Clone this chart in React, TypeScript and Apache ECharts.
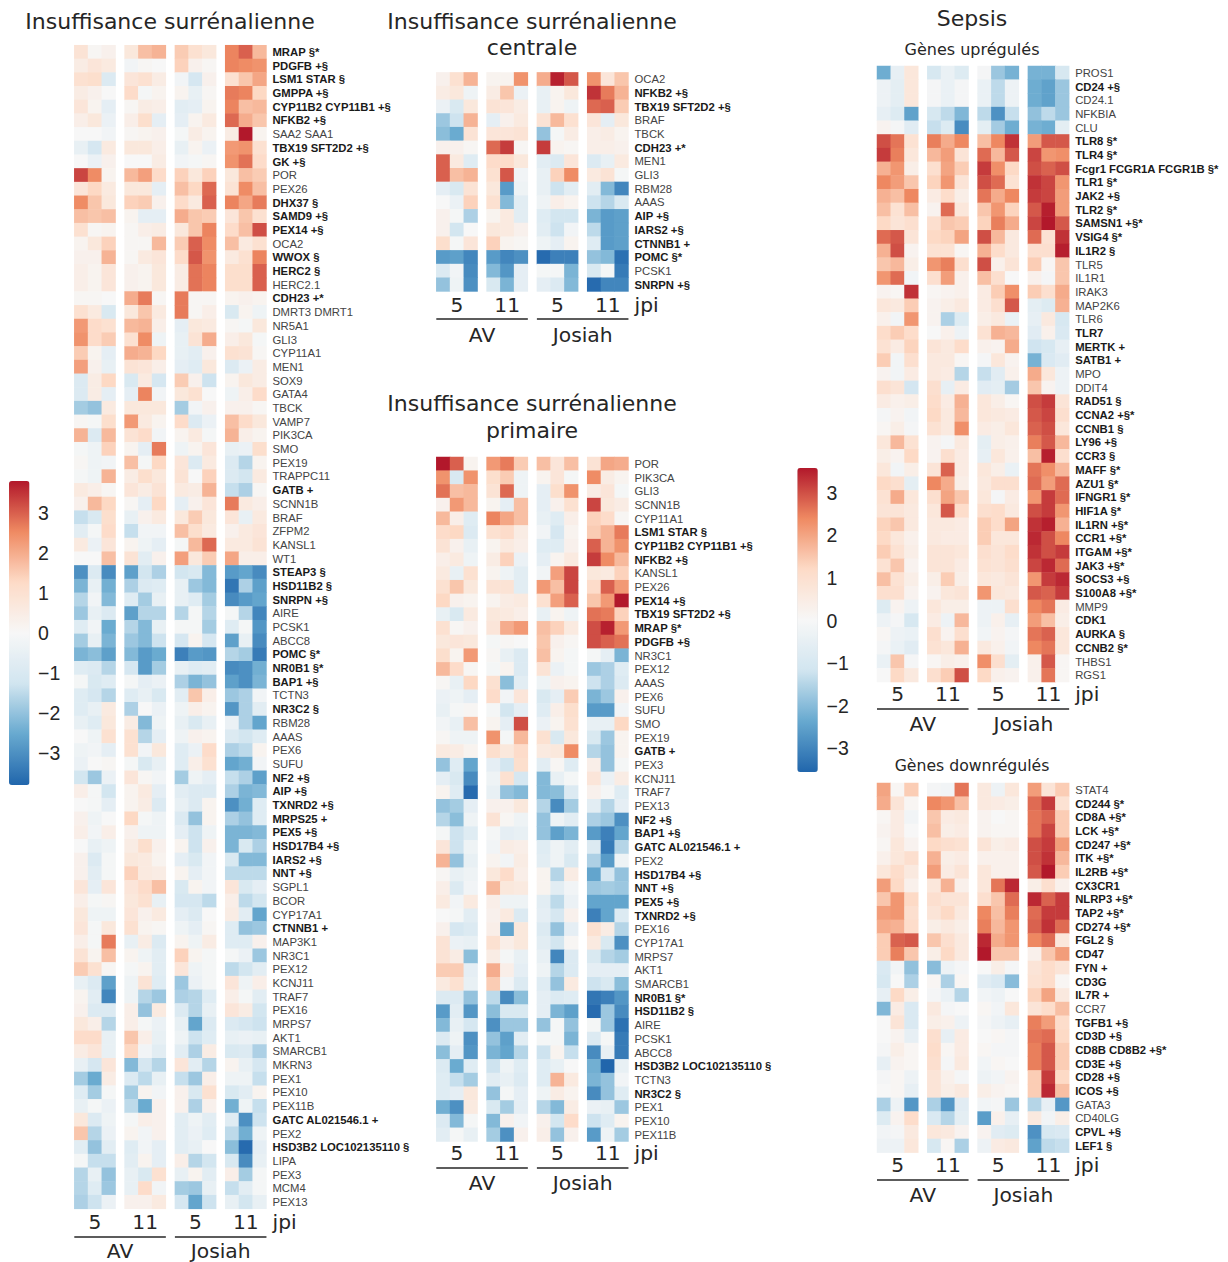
import React, { useEffect, useRef } from "react";
import * as echarts from "echarts";

const palette = ["#2166ac", "#67a9cf", "#d1e5f0", "#f7f7f7", "#fddbc7", "#ef8a62", "#b2182b"];
const dayLabels = ["5", "11", "5", "11"];
const cohortLabels = ["AV", "Josiah"];
const colorbarTicks = [3, 2, 1, 0, -1, -2, -3];
const boldWithoutMark = ["TLR7", "CDK1", "CD47", "CX3CR1", "CD3G"];

const surrenalLabels = ["MRAP §*","PDGFB +§","LSM1 STAR §","GMPPA +§","CYP11B2 CYP11B1 +§","NFKB2 +§","SAA2 SAA1","TBX19 SFT2D2 +§","GK +§","POR","PEX26","DHX37 §","SAMD9 +§","PEX14 +§","OCA2","WWOX §","HERC2 §","HERC2.1","CDH23 +*","DMRT3 DMRT1","NR5A1","GLI3","CYP11A1","MEN1","SOX9","GATA4","TBCK","VAMP7","PIK3CA","SMO","PEX19","TRAPPC11","GATB +","SCNN1B","BRAF","ZFPM2","KANSL1","WT1","STEAP3 §","HSD11B2 §","SNRPN +§","AIRE","PCSK1","ABCC8","POMC §*","NR0B1 §*","BAP1 +§","TCTN3","NR3C2 §","RBM28","AAAS","PEX6","SUFU","NF2 +§","AIP +§","TXNRD2 +§","MRPS25 +","PEX5 +§","HSD17B4 +§","IARS2 +§","NNT +§","SGPL1","BCOR","CYP17A1","CTNNB1 +","MAP3K1","NR3C1","PEX12","KCNJ11","TRAF7","PEX16","MRPS7","AKT1","SMARCB1","MKRN3","PEX1","PEX10","PEX11B","GATC AL021546.1 +","PEX2","HSD3B2 LOC102135110 §","LIPA","PEX3","MCM4","PEX13"];
const surrenalValues = [
[.9,.1,.3,.7,1.7,1.9,1.5,1,.7,2.6,3,1.8],
[.5,.8,.6,-.2,.1,0,1.4,.3,.1,2.6,2.5,2.4],
[1,1.1,-.9,.8,1,.5,-.2,-1.1,.3,1,1.6,2.1],
[.5,.3,0,1.2,-.1,.2,.2,-.5,.1,2.7,2.6,1.3],
[.8,.2,-.6,.1,.5,.4,-.7,-.6,.2,2.6,1.7,1.8],
[.4,.7,-.4,.4,1.1,-.6,-.6,.2,.6,2.9,2,1.6],
[0,0,-.2,.1,.2,.3,-.1,.5,.2,.5,3.8,.2],
[-.5,-1.1,.6,.7,.7,.4,-.5,.2,-.4,2.3,2.4,1],
[0,-.4,.3,0,0,.5,-.2,-.1,.1,2.4,2.8,1.2],
[3.3,2.5,.2,1.8,2.2,1.2,1.4,.7,1.4,.7,1.7,1.5],
[.8,1.3,.6,.7,.7,-.6,1.7,1.3,2.9,.9,2.5,1.7],
[2.5,1.6,.7,1.4,1.5,.3,1.2,.6,3,2.6,2.1,2.7],
[1.7,1.6,1.7,.2,-.6,-.6,2,1.6,1.5,.8,1.6,1],
[1,.1,.2,.1,.4,.5,.7,1.6,2.6,1.2,1.7,3.2],
[.2,.7,1.4,.1,.1,1.8,1.5,3,2.5,1.7,.6,1],
[.3,.3,1.9,.1,.6,.8,1.2,3.1,2.4,.6,1,2.6],
[.4,.2,.8,.3,.2,.7,.5,2.8,2.6,1.1,1.1,3],
[.4,.2,.8,.3,.2,.7,.5,2.8,2.6,1.1,1.1,3],
[.1,.1,0,2,2.7,.1,2.7,.1,.1,.2,.3,.2],
[1,.6,-1,.7,1.6,.6,2.7,.1,.4,-1,.2,-.3],
[2.3,1.2,1,1.8,1.9,.4,-.6,.7,.6,.1,-.1,.7],
[2.4,1.2,1.5,1,2.5,-.3,-.5,.9,2,.4,.7,-.1],
[1.5,.2,-.6,2,1.9,1.3,-.5,-.7,.3,1,.9,.1],
[2.2,.3,-.5,.9,.8,.4,-.6,-.8,.7,-.9,-.4,.5],
[-.9,.5,1.3,-1,.6,-1.1,1.5,.3,-1.3,.2,.7,.5],
[-.9,.5,-.6,-.6,2.6,-.2,.7,1,0,-.3,.4,1.2],
[-1.8,-2,.6,.7,.7,.7,-1.8,-.2,.3,.3,.3,.1],
[.1,-.1,1.1,2.3,.6,.2,1.2,-.9,-.4,1.7,1.2,.7],
[1.9,-.9,1.8,.9,1.2,-.2,.2,.6,-.1,1.9,.4,.2],
[-.1,-.3,1.4,.2,-.6,2.7,-.3,.2,.8,-.5,-.4,1.1],
[.1,-.3,-.2,1.7,-.1,1.3,.8,-.9,.6,-.9,-1.6,.2],
[-.1,-.3,1.9,.5,1.1,.7,.9,0,1.4,-.9,-1.2,.6],
[.6,.4,.1,.8,.5,.9,.6,.5,1.9,-1.4,-1.7,.1],
[.3,1.8,1.3,.1,-.6,1.3,-.6,.3,.8,2.7,.6,.4],
[-1.4,-1,1.1,-.5,.3,.6,.7,1.5,.7,.8,-.5,.6],
[-.7,-.1,1.2,-1.4,-.2,-.2,1.7,1.1,.6,.3,.6,.8],
[.6,-.4,.8,.2,-.3,-.6,-.1,1.8,2.9,.6,.6,.9],
[0,0,1.7,.9,-.7,.3,2.2,.7,1.5,2.1,.4,.4],
[-3,-.9,-3.1,-2.7,-1.2,-1.7,-1.2,-1,-2.2,-2.8,-2.6,-3.1],
[-2.3,-.5,-2.4,-1.7,-.9,-.8,-.5,-1.9,-2.2,-3.5,-1.7,-2.7],
[-1.6,-.2,-2.2,-.8,-1.8,-.5,-.5,-.8,-1.8,-3.1,-2.8,-2.6],
[-1.9,-.5,-.9,-2.7,-1.6,-1.6,-1.6,-.1,-1.6,-.1,-1.6,-3.2],
[-.8,-.2,-2.5,-1.6,-2.2,-.5,-.1,-.1,-1.8,-.8,-.1,-2.9],
[-1.8,-.5,-2.3,-1.9,-2.2,-1.3,-1.1,.2,-1.1,-2.7,-.5,-3.1],
[-2.3,-2.1,-2.7,-2.2,-2.8,-2.5,-3.3,-2.8,-2.9,-1.6,-1.8,-3.4],
[-.8,-.9,-1.6,-1.1,-2.8,-1.8,-.5,-.8,-.7,-3.1,-3,-2.4],
[-.1,-1,-.8,-.1,-.6,-.4,-1.7,-2.3,-2,-2.7,-3,-2.3],
[-.8,-1.1,-1.6,-.8,-.5,-1,-.7,1.6,.4,-1.9,-1.7,-.2],
[-.8,-.5,.6,-1.7,0,-.4,-.3,.4,.2,-2.9,-1.7,-.7],
[-.5,-.8,.7,.5,-2.2,-.3,-.5,-1,-.5,-.4,-1.7,-2.6],
[0,-.3,1,1,-1.6,-.6,-.3,.3,.2,-.9,-1.2,-.8],
[-.3,-.2,-.6,1,-.2,.7,-.8,-.4,1.2,-1.7,-1.5,.2],
[-.4,0,.1,-.1,-1,-.5,-.8,.4,1,-2.6,-2.4,-.2],
[-1.2,-1.9,-.4,.8,.1,-.2,-1.8,-.3,-.6,-1.4,-1.7,-2.7],
[.4,-.1,-1.2,.2,.6,-.6,-.7,-.9,-.9,-1.7,-2.3,-2.2],
[0,-.1,-.6,.2,.5,-.9,-.5,-.9,.2,-3,-2.4,-.8],
[.3,-.3,0,1.3,-.1,-.3,-.9,-2,.2,-1.7,-2,-.8],
[.4,-.2,.4,.3,-.3,-.3,-.6,-1.3,-.3,-2.3,-2.3,-2.2],
[0,-.5,-.3,.5,1.1,.3,.2,-1.3,.3,-2.3,-1,-1.7],
[.3,-.9,-.1,.7,.6,.2,-.6,-1,-.2,-1,-2.2,-2.2],
[.3,-.7,-.1,1.4,.6,.5,.2,-.6,-.2,-1.5,-1.5,-1.5],
[.8,-.6,.8,.8,1.2,1.7,-1,.2,-.2,.8,-1,-.6],
[.4,-.1,.1,.7,1,-.5,-1.1,-1.1,-1.5,.4,-1.5,-1.2],
[.7,-.3,-.3,.8,.3,.6,-.6,-.9,0,.5,-.7,-2.6],
[.8,-.1,.7,1,.2,.1,-.3,-.6,.1,-.8,-2,-1.9],
[.4,-.1,2.7,-.5,.5,-.9,.2,-.3,.5,-.8,-.8,.3],
[.9,.2,1.7,.2,-.3,-.7,1.4,.2,-.1,-.1,-.4,-1.9],
[1.5,1,.1,-.1,.2,-.7,.8,-.3,-.1,-1.5,-1.2,-.7],
[-.5,-.9,-2.7,-.3,.9,-.8,-1.9,-.4,-.1,.8,-.3,.4],
[.2,-.7,-3.2,-.3,-1.6,-1.9,-1.7,-1.6,-.8,.4,-.1,-.7],
[.3,-.9,-.9,.4,-2,.6,-.9,-1.6,-.5,.8,.5,-1.2],
[.7,.4,-1.6,.4,-.1,-.4,-.5,-2.6,-.9,-.9,-1.1,-1.3],
[1.2,1.2,-.5,1.6,.4,-.5,-.3,-1.3,-.8,-.5,-.4,-.5],
[.5,.8,-.5,1.3,-.2,-.7,-.7,-1.7,.5,-1,-.9,-1.7],
[-.5,-1.1,.8,-2.2,-1.1,-1.6,.8,-.7,-1.6,.2,-.5,-1.1],
[-1.8,-2.5,.5,-.9,-1.5,-.5,-1.4,-1.9,.4,-.3,-.3,-1.4],
[-.8,-1.8,-.1,-1.8,.2,-.2,.3,-1,1,-1,-.7,.2],
[-.5,-.1,-.4,-1.5,-2.5,.3,.3,-1.7,.3,-2.4,-.3,-1.4],
[.7,-.9,-.3,-.1,.4,.3,-.7,-.3,-.7,-.8,-3,-1.3],
[1.6,-1.6,-.4,.2,-.2,.3,-.7,-.4,-.8,-1.5,-2.4,-.3],
[-.7,-2,-.7,-.8,-.2,-.6,-.7,-.5,0,-2.1,-3.7,-.6],
[-.1,-1.4,-1.4,-.7,.2,-.6,.4,-1.6,-1.2,-1,-3.1,-.5],
[-1.6,-.5,-2,-.5,-1,1,-.5,.2,-.7,.4,-1.8,-.1],
[-1.6,-.8,-1.9,-.5,1.2,-.2,-1.8,-1.9,-.5,-1.4,-.7,-.1],
[-1.7,-1.3,-.4,.3,.3,.6,-1.1,-2.6,-1.3,-.5,-1.2,-.5],
];

const centraleLabels = ["OCA2","NFKB2 +§","TBX19 SFT2D2 +§","BRAF","TBCK","CDH23 +*","MEN1","GLI3","RBM28","AAAS","AIP +§","IARS2 +§","CTNNB1 +","POMC §*","PCSK1","SNRPN +§"];
const centraleValues = [
[.3,1,1.9,.2,.2,2.4,2,3.7,3.1,2.4,.8,1.6],
[.5,.7,-.3,.5,1.6,-.4,-.5,.2,.7,3.5,2.7,1.9],
[-.4,-1,.7,.9,.8,.5,-.5,.2,-.3,2.9,3,1.5],
[-1.9,-1.3,1.9,-.6,.3,.6,.9,1.8,1,.8,-.6,.7],
[-2.1,-2.5,.9,.8,.8,.9,-2,-.1,.5,.4,.5,.2],
[.3,.3,.1,2.9,3.4,.1,3.4,.2,.1,.4,.4,.3],
[3,.6,-.8,1.2,1.2,.7,-.7,-.9,.8,-.9,-.5,.6],
[3,1.7,1.9,1,3.1,-.2,-.5,1.4,2.5,.6,.9,-.1],
[-.6,-1,.9,.7,-2.8,-.3,-.5,-1.3,-.7,-.7,-2.2,-3.2],
[0,-.4,1.4,1,-2.2,-.7,-.3,.4,.2,-1.3,-1.6,-1],
[.3,-.1,-1.7,.2,.6,-.7,-.8,-1.2,-1.2,-2.3,-2.8,-2.7],
[.3,-1.2,0,.7,.6,.3,-.7,-1.3,-.2,-1.5,-2.8,-2.7],
[1.1,-.1,.8,1.4,.2,.1,-.3,-.6,.2,-.8,-2.8,-2.7],
[-2.8,-2.7,-3.2,-2.8,-3.2,-3,-3.7,-3.3,-3.3,-2,-2.2,-3.6],
[-.9,-.2,-3.1,-2.2,-2.9,-.6,-.1,-.1,-2.3,-1,-.1,-3.4],
[-2,-.3,-3,-1,-2.3,-.6,-.6,-.9,-2.2,-3.7,-3.2,-3.2],
];

const primaireLabels = ["POR","PIK3CA","GLI3","SCNN1B","CYP11A1","LSM1 STAR §","CYP11B2 CYP11B1 +§","NFKB2 +§","KANSL1","PEX26","PEX14 +§","TBX19 SFT2D2 +§","MRAP §*","PDGFB +§","NR3C1","PEX12","AAAS","PEX6","SUFU","SMO","PEX19","GATB +","PEX3","KCNJ11","TRAF7","PEX13","NF2 +§","BAP1 +§","GATC AL021546.1 +","PEX2","HSD17B4 +§","NNT +§","PEX5 +§","TXNRD2 +§","PEX16","CYP17A1","MRPS7","AKT1","SMARCB1","NR0B1 §*","HSD11B2 §","AIRE","PCSK1","ABCC8","HSD3B2 LOC102135110 §","TCTN3","NR3C2 §","PEX1","PEX10","PEX11B"];
const primaireValues = [
[3.8,3,.2,2.3,2.7,1.5,1.7,.8,1.7,.9,2.1,2],
[2.4,-1,2.4,1.1,1.5,-.3,.2,.8,-.1,2.5,.5,.2],
[2.8,1.7,1.8,.9,2.9,-.3,-.6,1.1,2.4,.5,.8,-.1],
[.3,2.3,1.8,.2,-.6,1.7,-.6,.3,1,3.3,.7,.5],
[1.8,.4,-.8,2.6,2.1,1.7,-.5,-.8,.4,1.4,1.2,.1],
[1.2,1.3,-.9,1,1.2,.5,-.2,-1.1,.2,1.5,1.9,2.7],
[.9,.3,-.5,.2,.6,.4,-.8,-.8,.3,3,1.9,2.4],
[.4,.6,-.3,.5,1.4,-.4,-.6,.2,.6,3.4,2.5,1.8],
[.6,-.5,1,.2,-.3,-.7,-.2,2.2,3.3,.7,.6,1.4],
[1,1.6,.7,.9,.9,-.7,2.3,1.7,3.3,1.2,3,2.3],
[1.3,.3,.2,.2,.5,.6,1,2.2,3,1.6,2.3,3.8],
[-.5,-1,.6,.7,.6,.4,-.5,.2,-.3,2.8,2.7,1.4],
[1,.1,.3,.8,2,2.3,1.7,1.4,.6,3.2,3.7,2.3],
[.7,.8,.7,-.1,.1,0,1.6,.3,.1,3.2,3,2.8],
[1.1,.2,2.3,.1,-.5,-.9,1.7,.2,-.1,-.1,-.6,-2.3],
[1.8,1.2,.1,-.1,.2,-.9,.9,-.4,-.1,-1.9,-1.7,-.8],
[.1,-.5,1.3,1,-2.1,-.7,-.3,.3,.2,-1.3,-1.7,-.9],
[-.4,-.3,-.6,1.2,-.2,.8,-1,-.6,1.5,-2.3,-1.9,.3],
[-.5,-.1,.1,-.1,-1.2,-.6,-.8,.4,1.1,-2.8,-2.8,-.2],
[-.2,-.5,1.7,.2,-.6,3.2,-.4,.2,1,-.5,-.5,1.3],
[.1,-.3,-.3,2.4,-.1,1.8,1,-1,.7,-1,-1.9,.2],
[.6,.5,.2,1.1,.7,1.2,.6,.7,2.5,-1.6,-2,.2],
[-2,-.8,-2.6,-.6,-1.2,1.1,-.7,.1,-.8,.4,-2,-.1],
[-.6,-1,-3.1,-.3,1,-1.1,-2.2,-.5,-.1,.8,-.4,.5],
[.2,-.8,-3.7,-.5,-2,-2.2,-2.2,-2.1,-.9,.3,-.1,-.8],
[-2,-1.8,-.6,.3,.3,.7,-1.6,-3.1,-1.8,-.7,-1.6,-.6],
[-1.6,-2.1,-.3,.9,.1,-.3,-2,-.3,-.7,-1.7,-1.9,-3],
[-.1,-1.3,-.8,-.1,-.6,-.5,-2,-2.7,-2.3,-2.8,-3.3,-2.6],
[.8,-1.3,-.3,-.2,.5,.4,-.8,-.3,-.7,-.9,-3.4,-1.6],
[1.9,-2,-.5,.2,-.2,.5,-.7,-.3,-1,-1.7,-2.8,-.3],
[.1,-.5,-.3,.7,1.2,.4,.2,-1.6,.5,-2.6,-1.1,-2],
[.4,-.9,-.2,1.8,.7,.6,.2,-.7,-.2,-1.9,-1.8,-1.9],
[.6,-.2,.6,.4,-.3,-.3,-.7,-1.5,-.4,-2.6,-2.6,-2.6],
[0,-.1,-.7,.3,.6,-.9,-.6,-1.1,.3,-3.3,-2.6,-.9],
[.3,-1.1,-.9,.4,-2.6,.7,-.9,-2,-.6,1,.5,-1.6],
[.9,-.4,-.5,1,.4,.7,-.7,-1.2,.1,.6,-1,-3],
[.9,.5,-2.1,.5,-.1,-.5,-.5,-3.2,-.9,-1,-1.6,-1.8],
[1.5,1.5,-.6,2,.4,-.6,-.3,-1.6,-.9,-.6,-.6,-.6],
[.6,1,-.5,1.5,-.2,-.9,-.8,-2,.6,-1.3,-1,-2.1],
[-.9,-.9,-2,-1.5,-3.1,-2.1,-.6,-.9,-.8,-3.5,-3.3,-2.9],
[-2.8,-.7,-2.9,-2.1,-1,-1,-.6,-2.3,-2.7,-3.7,-1.9,-3.1],
[-2.2,-.5,-1.1,-3,-1.9,-1.9,-2,-.1,-2,-.1,-1.9,-3.6],
[-.9,-.3,-3,-2,-2.7,-.7,-.1,-.1,-2.3,-.9,-.1,-3.4],
[-2.1,-.6,-2.9,-2.3,-2.6,-1.6,-1.3,.2,-1.4,-3.1,-.5,-3.4],
[-.9,-2.5,-.8,-1.3,-.3,-.8,-.8,-.5,0,-2.4,-3.8,-.5],
[-.8,-1.4,-1.8,-.7,-.5,-.9,-.8,1.9,.6,-2.3,-2,-.2],
[-.8,-.6,.7,-2,-.1,-.6,-.3,.5,.2,-3.1,-2,-.8],
[-2.4,-3,.6,-1,-1.8,-.6,-1.6,-2.2,.5,-.4,-.5,-1.9],
[-.9,-2.2,-.1,-2.2,.3,-.2,.3,-1.2,1.2,-1.3,-.8,.2],
[-.7,-.1,-.5,-1.8,-3,.3,.4,-2,.3,-2.8,-.3,-1.8],
];

const upLabels = ["PROS1","CD24 +§","CD24.1","NFKBIA","CLU","TLR8 §*","TLR4 §*","Fcgr1 FCGR1A FCGR1B §*","TLR1 §*","JAK2 +§","TLR2 §*","SAMSN1 +§*","VSIG4 §*","IL1R2 §","TLR5","IL1R1","IRAK3","MAP2K6","TLR6","TLR7","MERTK +","SATB1 +","MPO","DDIT4","RAD51 §","CCNA2 +§*","CCNB1 §","LY96 +§","CCR3 §","MAFF §*","AZU1 §*","IFNGR1 §*","HIF1A §*","IL1RN +§*","CCR1 +§*","ITGAM +§*","JAK3 +§*","SOCS3 +§","S100A8 +§*","MMP9","CDK1","AURKA §","CCNB2 §*","THBS1","RGS1"];
const upValues = [
[-2.3,-.5,.7,-1,-.4,-.8,-.1,-1.8,-2.2,-2.2,-2.2,-1],
[-.3,-.6,.7,-.1,-.4,-.1,-.4,-1.4,-.3,-2.3,-2.5,-1.8],
[-.3,-.6,.7,-.1,-.4,-.1,-.4,-1.4,-.3,-2.3,-2.5,-1.8],
[-.5,-.8,-2.5,-1,-1.4,-2.1,-1.4,-2.8,-1.3,-1.9,-1.4,-1.8],
[.2,-.1,-.7,-1.3,-.8,-2.9,-.6,-1.7,-2.3,-2.2,-2.3,-.6],
[3,2.6,.9,2.5,1.9,2.4,1.6,2.4,3.3,2.1,2.9,2.9],
[3.2,2.5,.7,1.7,2.1,.8,2.7,1.7,2.9,3.1,2.2,2.3],
[1.8,2.2,.4,1,2,1.4,3.2,2.3,1.2,3,2.8,3],
[2.4,2.1,1.5,1.3,2.2,.8,3,2.7,.9,3.3,3.1,2.2],
[1.8,1.6,2.4,.5,1.1,.4,2.6,1.9,2.4,3.2,3.1,2.1],
[1.6,.9,1.6,.2,2.7,.7,1.5,2.2,1.3,2.9,3.5,2.1],
[1.2,.8,1,1,1.5,1.4,1.3,2.5,1.9,3.1,3.6,2.9],
[2.7,2.9,.8,1.2,1.3,2,3,1.7,.6,2.7,.9,3.3],
[1.8,3,.2,.9,.9,.1,1.8,1.1,.6,1,1,3.5],
[1.5,1.7,.4,2.2,2.5,1,3,.3,.8,1.4,.1,1.5],
[2.2,2.7,-.2,1,2.1,.3,1.6,1,0,.3,-.1,1.5],
[.2,.1,3.3,.1,.2,.3,.5,1.4,2.3,1.4,1,1.9],
[.7,.6,1.4,.2,.4,.6,.5,1,2.9,-.6,-.8,1.8],
[.3,-.2,2.2,.2,-1.6,-.8,.4,.6,-.4,-.5,.6,-1],
[1.1,1.4,1.1,0,.3,-.3,.9,1.8,1.7,-.7,.3,-.9],
[.9,.5,1.3,.8,.6,1.1,.3,.2,1.9,-1.2,-1,-.5],
[1.4,-.2,1,.6,.6,.1,-.1,.7,.2,-2.2,-.9,-.7],
[.2,-.2,.5,.6,.5,-1.5,-1.3,-.7,.3,1.9,.7,-.3],
[1,.8,-1.1,1,-.5,.5,-.7,-.6,-1.7,1.5,.2,-.3],
[.5,.3,.4,1.1,.5,1.8,.7,.4,.1,3,3.2,.8],
[-.1,.2,-.2,1.2,.6,1.7,.7,.6,.5,2.9,3.1,1],
[.1,.4,-.1,.9,.6,2.3,.5,.4,.7,2.8,3,.7],
[.7,1.7,.9,.2,-.1,.6,-.6,.4,.3,2.5,2.9,1.7],
[.4,.2,1.2,.2,1,.5,-.5,.7,.3,1.6,3.5,1],
[.7,-.2,.4,.8,2.8,.5,.7,.4,-.4,2.6,2.3,1.7],
[1.2,1,-.6,2.4,1.9,.4,.6,1,1,2.7,2.1,2.7],
[.9,1.9,.7,1,2,1.5,.7,-.1,.5,2.2,3.2,2.7],
[.8,.8,.6,.7,2.9,1.1,1,1.1,.6,3,3.2,2.2],
[1.3,1.5,.6,.6,.6,.5,1.4,1.1,2,3.3,3.5,1.8],
[1.2,.7,.3,.6,.5,.5,1.4,.7,.7,3.4,3,2.4],
[1.4,.9,.4,.8,.8,.7,1,.8,1.1,3.3,3,3.2],
[.9,1.5,.2,.8,.8,.5,.9,.8,1,3.1,3.4,2.7],
[1.6,.9,.4,.4,1.4,.4,.7,.6,.8,2.2,3.2,3.4],
[1,1,.2,.2,.7,.8,2.2,.7,.6,2.9,2.8,3.2],
[-.8,.2,-.3,.7,.4,.4,-.3,-.3,1,2.4,2.6,.5],
[-.3,-.1,-1,.5,-.3,1.7,-.3,.3,-.5,2.1,1.6,.4],
[.1,-.3,-.4,1,.2,1,-.2,.2,-.1,2.6,2.8,.7],
[-.1,-.4,-.7,.9,.7,1.8,.6,.3,-.2,2.4,2.6,.7],
[-.4,1.5,-.1,.1,.4,.3,2.3,1,-.6,.3,2.9,.1],
[0,1.2,.6,1,1.4,3,1.2,.3,.2,.3,2.6,.1],
];

const downLabels = ["STAT4","CD244 §*","CD8A +§*","LCK +§*","CD247 +§*","ITK +§*","IL2RB +§*","CX3CR1","NLRP3 +§*","TAP2 +§*","CD274 +§*","FGL2 §","CD47","FYN +","CD3G","IL7R +","CCR7","TGFB1 +§","CD3D +§","CD8B CD8B2 +§*","CD3E +§","CD28 +§","ICOS +§","GATA3","CD40LG","CPVL +§","LEF1 §"];
const downValues = [
[2,.1,1.4,-.1,-.2,2.6,.6,-.3,.7,2.1,.8,1.4],
[1.9,.8,.1,2.4,2.2,1.6,.6,.5,.4,2.7,3.2,.9],
[.1,.5,-.2,1.5,.5,.6,.2,0,.1,2.6,2.8,1.4],
[.2,.5,0,1.6,.4,.5,.2,.1,.1,2.6,3.1,1.4],
[.1,.7,.2,1.2,1,.9,.8,.4,.5,3,3.2,2.1],
[.3,.7,1,1.8,.4,.5,.3,.3,.3,3,3.3,1.7],
[.7,1.1,.6,2.1,.5,.8,.7,.3,.3,2.9,3.6,1.4],
[2.1,1.2,.3,.7,1.8,.3,.7,2.6,3.4,.4,1,.3],
[1.5,2.2,1.2,1,.8,.8,1,1.5,2.7,3.4,2.8,3.2],
[2.1,2.2,1,.8,1.2,.6,2.4,1.6,2.5,2.7,3.2,3.2],
[1.9,1.8,1.1,.4,.6,.4,2.5,1.7,2.2,2.8,3.3,2.7],
[1.4,2.8,2.9,1.5,1,.6,3.4,1.9,2.2,2.4,2.7,.7],
[1.4,2.5,1.5,.4,1.2,.6,3.6,1.5,1.5,.3,1.5,2.1],
[-.9,-.2,-1.9,-2,-.3,-.1,0,.4,-.1,.8,1.1,.8],
[-1,0,-1.6,.1,-1.6,.1,-.7,-.9,-2,.9,1.1,.1],
[-.5,1.2,.4,-.1,-.4,-1.5,-.2,-.3,0,1.3,2,.6],
[-2.1,.5,-.9,.6,-.1,0,.1,-.2,.7,.8,1.1,1.6],
[0,.8,-.9,.4,.3,-.3,-.1,-.3,-.5,2.5,2.1,1.1],
[0,.2,-.5,1,-.5,.5,0,.1,-.1,2.6,2.7,1.2],
[-.1,.4,.1,1.1,.1,.5,.1,-.1,-.1,2.5,2.9,1.4],
[-.5,.2,.1,1,-.1,.6,-.2,.1,0,2.5,2.9,1.4],
[-.1,.1,-.3,.8,.3,-.1,-.3,-.2,.2,1.4,3.2,1.2],
[0,.1,-.5,.8,.4,.6,.4,.2,.1,1.4,3.4,1.6],
[-1.6,-.3,-2.7,-1.6,-2.7,-.7,-.2,-.1,-1.8,-1.5,-.5,-2.7],
[-.8,.2,1.1,-.9,-1.5,-.6,-2.6,.3,-.5,.6,-.2,.4],
[-.2,-.1,.6,.7,.6,.2,.2,-.7,-.8,-2.8,-1,-.9],
[-.3,-.3,.7,-1,.1,-1.6,-.3,.5,.6,-2.5,-1.4,-1.3],
];

const DEJAVU = "DejaVu Sans";
const ARIAL = "Liberation Sans";
const ROW_H = 13.69;
const COL_W = 13.75;
const GROUP_STEP = 50.3;
const LABEL_SIZE = 11.3;
const AXIS_TEXT = 20.3;
const TITLE_TEXT = 22;

const panels = [
  { labels: surrenalLabels, values: surrenalValues, left: 74.3, top: 45.2, tickY: 1222, lineY: 1237, nameY: 1250.8, scale: 0 },
  { labels: centraleLabels, values: centraleValues, left: 436.3, top: 72.4, tickY: 305, lineY: 319, nameY: 335, scale: 0 },
  { labels: primaireLabels, values: primaireValues, left: 436.3, top: 457, tickY: 1153, lineY: 1168, nameY: 1183, scale: 0 },
  { labels: upLabels, values: upValues, left: 877, top: 66, tickY: 694, lineY: 709, nameY: 724, scale: 1 },
  { labels: downLabels, values: downValues, left: 877, top: 783, tickY: 1165, lineY: 1180, nameY: 1195, scale: 1 },
];

const isBold = (s: string) => /[+§*]/.test(s) || boldWithoutMark.includes(s);

function buildOption() {
  const grid: any[] = [], xAxis: any[] = [], yAxis: any[] = [], series: any[] = [];
  const graphic: any[] = [];
  const seriesByScale: number[][] = [[], []];
  const txt = (text: string, x: number, y: number, size: number, font = DEJAVU, align = "center") => graphic.push({
    type: "text", x, y, silent: true,
    style: { text, fontSize: size, fontFamily: font, fill: "#262626", align, verticalAlign: "middle" },
  });

  panels.forEach((p) => {
    const height = ROW_H * p.labels.length;
    [0, 1, 2, 3].forEach((g) => {
      const left = p.left + g * GROUP_STEP;
      const idx = grid.length;
      grid.push({ left, top: p.top, width: COL_W * 3, height, containLabel: false });
      xAxis.push({ type: "category", gridIndex: idx, data: ["a", "b", "c"], show: false });
      yAxis.push({
        type: "category", gridIndex: idx, data: p.labels, inverse: true, position: "right",
        show: g === 3,
        axisLine: { show: false }, axisTick: { show: false },
        axisLabel: {
          interval: 0, margin: 6, fontFamily: ARIAL,
          formatter: (v: string) => (isBold(v) ? `{b|${v}}` : `{r|${v}}`),
          rich: {
            b: { fontFamily: ARIAL, fontSize: LABEL_SIZE, fontWeight: "bold", color: "#1a1a1a" },
            r: { fontFamily: ARIAL, fontSize: LABEL_SIZE, color: "#444444" },
          },
        },
      });
      const data: any[] = [];
      p.values.forEach((row, r) => {
        for (let c = 0; c < 3; c++) data.push([c, r, row[g * 3 + c]]);
      });
      seriesByScale[p.scale].push(series.length);
      series.push({
        type: "heatmap", xAxisIndex: idx, yAxisIndex: idx, data, silent: true,
        itemStyle: { borderWidth: 0 }, emphasis: { disabled: true },
      });
      txt(dayLabels[g], left + COL_W * 1.5, p.tickY, AXIS_TEXT);
    });
    txt("jpi", p.left + 4 * GROUP_STEP - 3, p.tickY, AXIS_TEXT, DEJAVU, "left");
    [0, 1].forEach((k) => {
      const x1 = p.left + k * 2 * GROUP_STEP;
      const x2 = x1 + GROUP_STEP + COL_W * 3;
      graphic.push({
        type: "line", silent: true,
        shape: { x1, y1: p.lineY, x2, y2: p.lineY },
        style: { stroke: "#262626", lineWidth: 1.3 },
      });
      txt(cohortLabels[k], (x1 + x2) / 2, p.nameY, AXIS_TEXT);
    });
  });

  txt("Insuffisance surrénalienne", 170, 21, TITLE_TEXT);
  txt("Insuffisance surrénalienne", 532, 21, TITLE_TEXT);
  txt("centrale", 532, 47.5, TITLE_TEXT);
  txt("Insuffisance surrénalienne", 532, 403.5, TITLE_TEXT);
  txt("primaire", 532, 430.5, TITLE_TEXT);
  txt("Sepsis", 972, 18.5, TITLE_TEXT);
  txt("Gènes uprégulés", 972, 49.5, 16);
  txt("Gènes downrégulés", 972, 765.5, 15.7);

  colorbarTicks.forEach((t) => {
    const s = t < 0 ? `\u2212${-t}` : String(t);
    txt(s, 38, 633 - t * 40, 19.5, ARIAL, "left");
    txt(s, 826.5, 620.5 - t * 42.6, 19.5, ARIAL, "left");
  });

  const vm = (seriesIndex: number[], left: number, top: number, range: number) => ({
    type: "continuous", seriesIndex, min: -range, max: range, left, top, padding: 0,
    itemWidth: 20.5, itemHeight: 304, calculable: false, showLabel: false, text: undefined,
    hoverLink: false, realtime: false, inRange: { color: palette },
  });

  return {
    animation: false,
    backgroundColor: "#ffffff",
    tooltip: { show: false },
    grid, xAxis, yAxis, series, graphic: { elements: graphic },
    visualMap: [vm(seriesByScale[0], 9, 481, 3.8), vm(seriesByScale[1], 797.3, 468, 3.57)],
  };
}

export default function App() {
  const ref = useRef<HTMLDivElement>(null);
  useEffect(() => {
    const chart = echarts.init(ref.current!, null, { renderer: "svg" });
    chart.setOption(buildOption() as any);
    return () => chart.dispose();
  }, []);
  return <div ref={ref} style={{ position: "absolute", left: 0, top: 0, width: 1228, height: 1262 }} />;
}
